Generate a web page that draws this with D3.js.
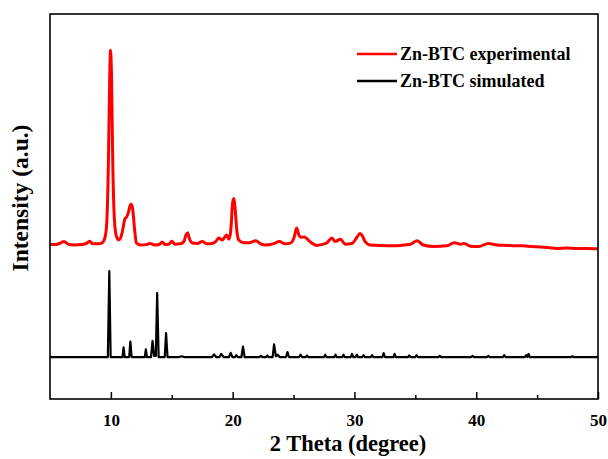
<html>
<body style="margin:0">
<script src="https://d3js.org/d3.v7.min.js"></script>
<script>

// experimental pattern (2 theta, stacked intensity in a.u.)
var expTheta = [5.0, 5.4, 5.8, 6.15, 6.5, 7.0, 7.6, 8.0, 8.25, 8.5, 9.0, 9.3, 9.5, 9.65, 9.8, 9.9, 9.97, 10.05, 10.15, 10.3,
  10.45, 10.65, 10.85, 11.0, 11.15, 11.3, 11.45, 11.6, 11.7, 11.8, 11.95, 12.1, 12.4, 12.9, 13.2, 13.6, 14.0, 14.2, 14.45, 14.8,
  15.0, 15.25, 15.7, 16.0, 16.15, 16.3, 16.45, 16.7, 17.1, 17.5, 17.9, 18.3, 18.6, 18.85, 19.15, 19.5, 19.7, 19.85, 20.0, 20.1,
  20.2, 20.35, 20.5, 20.9, 21.4, 21.9, 22.3, 22.7, 23.3, 23.85, 24.3, 24.75, 25.05, 25.25, 25.45, 25.6, 25.9, 26.3, 26.9, 27.3,
  27.75, 28.15, 28.4, 28.85, 29.25, 29.8, 30.2, 30.45, 30.65, 30.85, 31.3, 32.0, 32.95, 33.8, 34.6, 35.15, 35.65, 36.5, 37.6, 38.2,
  38.7, 39.0, 39.5, 40.2, 41.0, 41.7, 42.5, 43.2, 43.85, 44.5, 45.3, 46.0, 46.6, 47.4, 48.25, 49.0, 50.0];
var expIntensity = [40.2, 40.1, 40.4, 40.9, 40.2, 40.0, 40.1, 40.4, 41.0, 40.3, 40.3, 40.6, 41.8, 45.2, 62.1, 82.9, 90.6, 84.2, 62.1, 46.0,
  42.3, 41.3, 42.3, 44.4, 46.8, 47.3, 48.6, 50.4, 50.6, 49.1, 43.9, 40.5, 40.0, 40.1, 40.4, 40.0, 40.2, 40.8, 40.1, 40.3,
  41.0, 40.2, 40.3, 40.9, 42.5, 43.2, 41.6, 40.5, 40.4, 40.9, 40.3, 40.4, 40.9, 41.8, 41.3, 42.6, 41.5, 44.0, 51.0, 52.1,
  49.5, 43.5, 41.3, 40.6, 40.6, 41.1, 40.3, 40.0, 40.3, 40.9, 40.3, 40.5, 42.0, 44.4, 42.5, 42.0, 42.1, 41.0, 39.9, 40.1,
  40.6, 41.8, 40.9, 41.5, 40.2, 40.4, 42.0, 43.0, 42.4, 41.0, 40.0, 39.9, 39.8, 39.9, 40.2, 41.1, 40.0, 39.6, 39.8, 40.6,
  40.2, 40.4, 39.7, 39.6, 40.4, 40.0, 39.9, 39.8, 39.8, 39.6, 39.5, 39.3, 39.1, 39.2, 39.1, 39.1, 39.0];

// simulated pattern
var simTheta = [5.0, 7.5, 9.75, 9.87, 9.98, 10.95, 11.04, 11.13, 11.5, 11.6, 11.7, 12.78, 12.87, 12.96, 13.3, 13.42, 13.55, 13.69, 13.8, 13.92,
  14.42, 14.53, 14.65, 15.6, 15.8, 16.0, 18.3, 18.47, 18.65, 18.9, 19.07, 19.25, 19.7, 19.84, 19.98, 20.2, 20.3, 20.4, 20.72, 20.85,
  20.98, 22.2, 22.3, 22.45, 22.75, 22.85, 22.95, 23.28, 23.4, 23.55, 23.7, 23.85, 24.38, 24.5, 24.62, 25.45, 25.57, 25.7, 26.0, 26.1,
  26.2, 27.5, 27.6, 27.7, 28.35, 28.45, 28.55, 29.0, 29.1, 29.2, 29.7, 29.8, 29.9, 30.1, 30.2, 30.3, 30.65, 30.75, 30.85, 31.35,
  31.45, 31.55, 32.3, 32.4, 32.5, 33.2, 33.3, 33.4, 34.4, 34.5, 34.6, 35.0, 35.1, 35.2, 36.9, 37.0, 37.1, 39.6, 39.7, 39.8,
  40.9, 41.0, 41.1, 42.2, 42.3, 42.4, 44.0, 44.1, 44.2, 44.3, 44.4, 47.8, 47.9, 48.0, 50.0];
var simIntensity = [10.9, 10.9, 10.9, 33.2, 10.9, 10.9, 13.4, 10.9, 10.9, 14.9, 10.9, 10.9, 12.9, 10.9, 10.9, 15.1, 11.2, 11.2, 27.5, 10.9,
  10.9, 17.1, 10.9, 10.9, 11.1, 10.9, 10.9, 11.6, 10.9, 10.9, 11.7, 10.9, 10.9, 12.0, 10.9, 10.9, 11.4, 10.9, 10.9, 13.6,
  10.9, 10.9, 11.2, 10.9, 10.9, 11.3, 10.9, 10.9, 14.2, 11.1, 11.5, 10.9, 10.9, 12.2, 10.9, 10.9, 11.5, 10.9, 10.9, 11.3,
  10.9, 10.9, 11.5, 10.9, 10.9, 11.5, 10.9, 10.9, 11.5, 10.9, 10.9, 11.7, 10.9, 10.9, 11.5, 10.9, 10.9, 11.4, 10.9, 10.9,
  11.4, 10.9, 10.9, 11.9, 10.9, 10.9, 11.7, 10.9, 10.9, 11.3, 10.9, 10.9, 11.4, 10.9, 10.9, 11.2, 10.9, 10.9, 11.2, 10.9,
  10.9, 11.2, 10.9, 10.9, 11.4, 10.9, 10.9, 11.4, 10.9, 11.7, 10.9, 10.9, 11.1, 10.9, 10.9];

var majorTicks = [10, 20, 30, 40, 50];
var minorTicks = [15, 25, 35, 45];

var seriesNames = ["Zn-BTC experimental", "Zn-BTC simulated"];
var seriesColors = ["#ff0000", "#000000"];

// bold serif used for every label
function serifText(sel, size) {
  sel.style("font-family", "'Liberation Serif'")
    .style("font-weight", "bold")
    .style("font-size", size + "px")
    .attr("fill", "#000");
}

// set the dimensions and margins of the graph
var margin = {top: 14, right: 10, bottom: 60, left: 50},
    width = 608 - margin.left - margin.right,
    height = 459 - margin.top - margin.bottom;

var root = d3.select("body").append("svg")
  .attr("width", width + margin.left + margin.right)
  .attr("height", height + margin.top + margin.bottom);

var svg = root.append("g")
  .attr("transform", "translate(" + margin.left + "," + margin.top + ")");

var x = d3.scaleLinear()
  .domain([5, 50])
  .range([0, width]);

var y = d3.scaleLinear()
  .domain([0, 100])
  .range([height, 0]);

var line = d3.line()
  .x(function(d) { return x(d[0]); })
  .y(function(d) { return y(d[1]); });

var expData = d3.zip(expTheta, expIntensity);
var simData = d3.zip(simTheta, simIntensity);

svg.append("path")
  .datum(simData)
  .attr("fill", "none")
  .attr("stroke", seriesColors[1])
  .attr("stroke-width", 2.2)
  .attr("stroke-linejoin", "round")
  .attr("d", line);

svg.append("path")
  .datum(expData)
  .attr("fill", "none")
  .attr("stroke", seriesColors[0])
  .attr("stroke-width", 3)
  .attr("stroke-linejoin", "round")
  .attr("d", line.curve(d3.curveMonotoneX));

// bottom axis: major ticks with labels, minor ticks without, both pointing inward
svg.append("g")
  .attr("transform", "translate(0," + height + ")")
  .call(d3.axisBottom(x).tickValues(majorTicks).tickSize(-7).tickPadding(15).tickFormat(d3.format("d")))
  .call(function(g) {
    g.attr("font-family", null);
    g.select(".domain").remove();
    g.selectAll(".tick line").attr("stroke-width", 1.5);
    g.selectAll(".tick text").call(serifText, 17);
  });

svg.append("g")
  .attr("transform", "translate(0," + height + ")")
  .call(d3.axisBottom(x).tickValues(minorTicks).tickSize(-4).tickFormat(""))
  .call(function(g) {
    g.select(".domain").remove();
    g.selectAll(".tick line").attr("stroke-width", 1.5);
  });

// frame
svg.append("rect")
  .attr("x", 0)
  .attr("y", 0)
  .attr("width", width)
  .attr("height", height)
  .attr("fill", "none")
  .attr("stroke", "#000")
  .attr("stroke-width", 1.6);

// axis titles
root.append("text")
  .attr("x", 348)
  .attr("y", margin.top + height + 52)
  .attr("text-anchor", "middle")
  .call(serifText, 22.5)
  .text("2 Theta (degree)");

root.append("text")
  .attr("transform", "translate(28,198) rotate(-90)")
  .attr("text-anchor", "middle")
  .call(serifText, 23.5)
  .text("Intensity (a.u.)");

// legend
seriesNames.forEach(function(name, i) {
  root.append("line")
    .attr("x1", 357)
    .attr("x2", 397)
    .attr("y1", 54 + i * 27)
    .attr("y2", 54 + i * 27)
    .attr("stroke", seriesColors[i])
    .attr("stroke-width", 2.6);
  root.append("text")
    .attr("x", 400)
    .attr("y", 60 + i * 27)
    .call(serifText, 18)
    .text(name);
});

</script>
</body>
</html>
